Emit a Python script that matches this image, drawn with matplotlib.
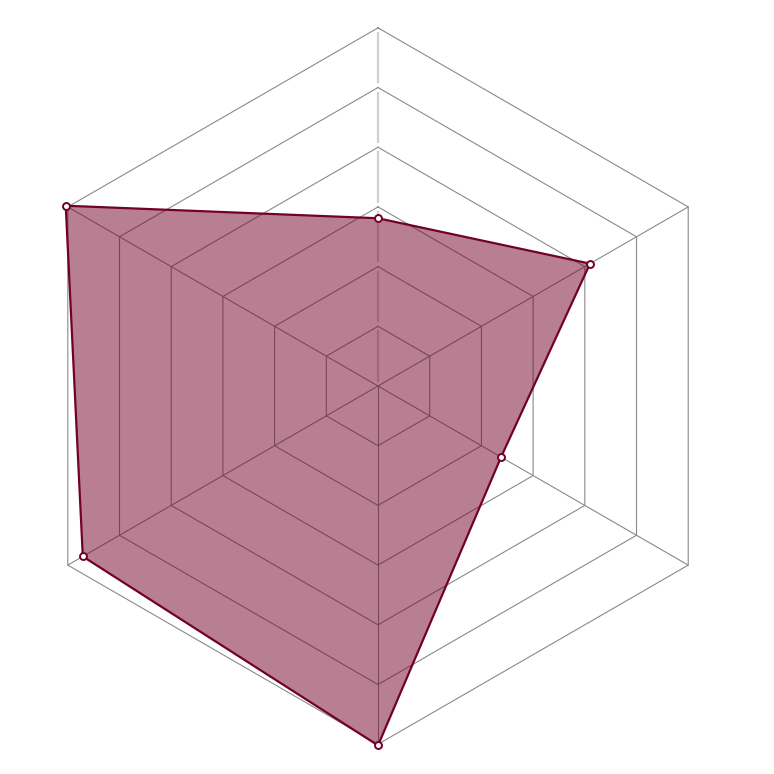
import numpy as np
import matplotlib
matplotlib.use('Agg')
import matplotlib.pyplot as plt

# six axes, starting at the top and going clockwise
angles_deg = [90, 30, -30, -90, -150, 150]
values = [2.81, 4.10, 2.38, 6.02, 5.71, 6.04]
levels = [1, 2, 3, 4, 5, 6]

line_color = '#720129'
grid_color = '#8a8a8a'

theta = np.radians(angles_deg)

fig = plt.figure(figsize=(7.74, 7.74), dpi=100)
ax = fig.add_axes([0, 0, 1, 1])
ax.set_xlim(-6.332, 6.633)
ax.set_ylim(-6.499, 6.466)
ax.set_aspect('equal')
ax.axis('off')

# hexagonal rings
for lv in levels:
    xs = lv * np.cos(np.append(theta, theta[0]))
    ys = lv * np.sin(np.append(theta, theta[0]))
    ax.plot(xs, ys, color=grid_color, lw=0.8, zorder=1)

# spokes (the first one is the light value axis)
rmax = max(levels)
for i, t in enumerate(theta):
    if i == 0:
        gap = 0.07
        for lo in range(rmax):
            r0 = lo + gap
            r1 = lo + 1 - gap
            ax.plot([r0 * np.cos(t), r1 * np.cos(t)], [r0 * np.sin(t), r1 * np.sin(t)],
                    color='#cfcfcf', lw=1.6, zorder=1, solid_capstyle='butt')
    else:
        ax.plot([0, rmax * np.cos(t)], [0, rmax * np.sin(t)], color=grid_color, lw=0.8, zorder=1)

# data polygon
v = np.array(values)
px = v * np.cos(theta)
py = v * np.sin(theta)
ax.fill(px, py, color=line_color, alpha=0.5, lw=0, zorder=2)
ax.plot(np.append(px, px[0]), np.append(py, py[0]), color=line_color, lw=1.6, zorder=3)
ax.plot(px, py, 'o', ms=5, mfc='white', mec=line_color, mew=1.4, zorder=4, ls='none')

plt.savefig('out.png', dpi=100)
